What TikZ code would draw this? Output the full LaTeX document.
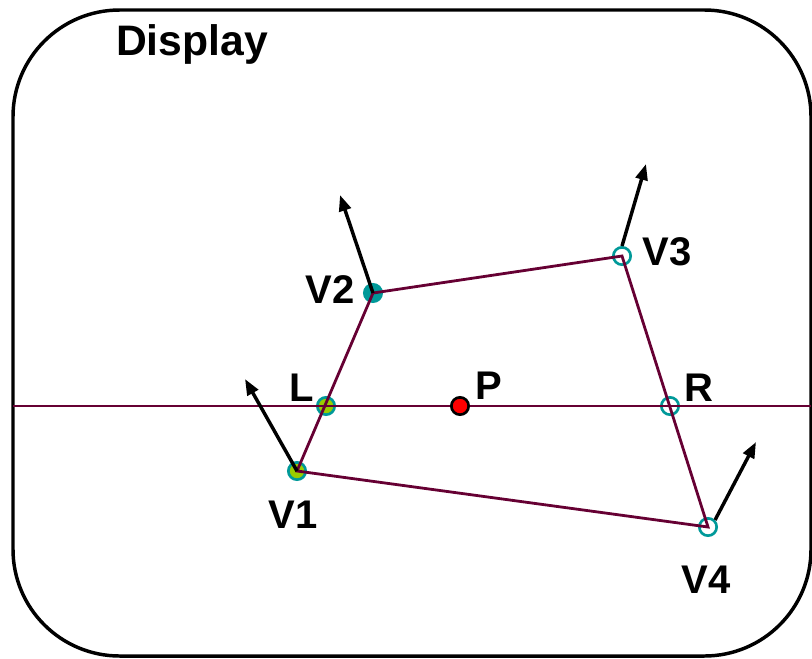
\documentclass[tikz,border=0pt]{standalone}
\usepackage{fontspec}
\setmainfont{Liberation Sans}
\usetikzlibrary{arrows.meta}
\definecolor{tealc}{HTML}{009999}
\definecolor{limec}{HTML}{99CC00}
\definecolor{edgec}{HTML}{660033}
\begin{document}
\begin{tikzpicture}[x=0.75pt,y=-0.75pt,
  pt/.style={circle,minimum size=13pt,inner sep=0pt,line width=2pt,draw=tealc},
  ptg/.style={pt,fill=limec},
  ptt/.style={pt,fill=tealc},
  pto/.style={pt,fill=white},
  ptr/.style={pt,fill=red,draw=black},
  edge/.style={draw=edgec,line width=2.1pt},
  nrm/.style={-{Triangle[length=12pt,width=9pt]},line width=2.6pt,black},
  lbl/.style={font=\bfseries\fontsize{30}{33}\selectfont,inner sep=0pt}]
\useasboundingbox (0,0) rectangle (812,658);
\draw[line width=2.6pt,rounded corners=80pt] (13,10) rectangle (811,656);
\node[lbl,font=\bfseries\fontsize{32}{35}\selectfont] (title) at (192,44) {Display};
% points
\node[ptg] (v1) at (297,471) {};
\node[ptt] (v2) at (373,293) {};
\node[pto] (v3) at (622,256) {};
\node[pto] (v4) at (708,527) {};
\node[ptg] (l) at (326,406) {};
\node[ptr] (p) at (460,406) {};
\node[pto] (r) at (670,406) {};
\coordinate (hl) at (13,406);
\coordinate (hr) at (811,406);
% edges
\draw[edge] (hl) -- (l.center) -- (p.west);
\draw[edge] (p.east) -- (r.center) -- (hr);
\draw[edge,line join=miter] (v1.center) -- (v2.center) -- (v3.center) -- (v4.center) -- cycle;
% normals
\coordinate (n1) at (245,379);
\coordinate (n2) at (340,195);
\coordinate (n3) at (646,164);
\coordinate (n4) at (756,442);
\draw[nrm] (v1.center) -- (n1);
\draw[nrm] (v2.center) -- (n2);
\draw[nrm] (v3.north) -- (n3);
\draw[nrm] (v4.north east) -- (n4);
% labels
\node[lbl] (t1) at (293,515) {V1};
\node[lbl] (t2) at (330,290) {V2};
\node[lbl] (t3) at (667,252) {V3};
\node[lbl] (t4) at (706,580) {V4};
\node[lbl] (tl) at (302,388) {L};
\node[lbl] (tp) at (489,386) {P};
\node[lbl] (tr) at (699,388) {R};
\end{tikzpicture}
\end{document}
